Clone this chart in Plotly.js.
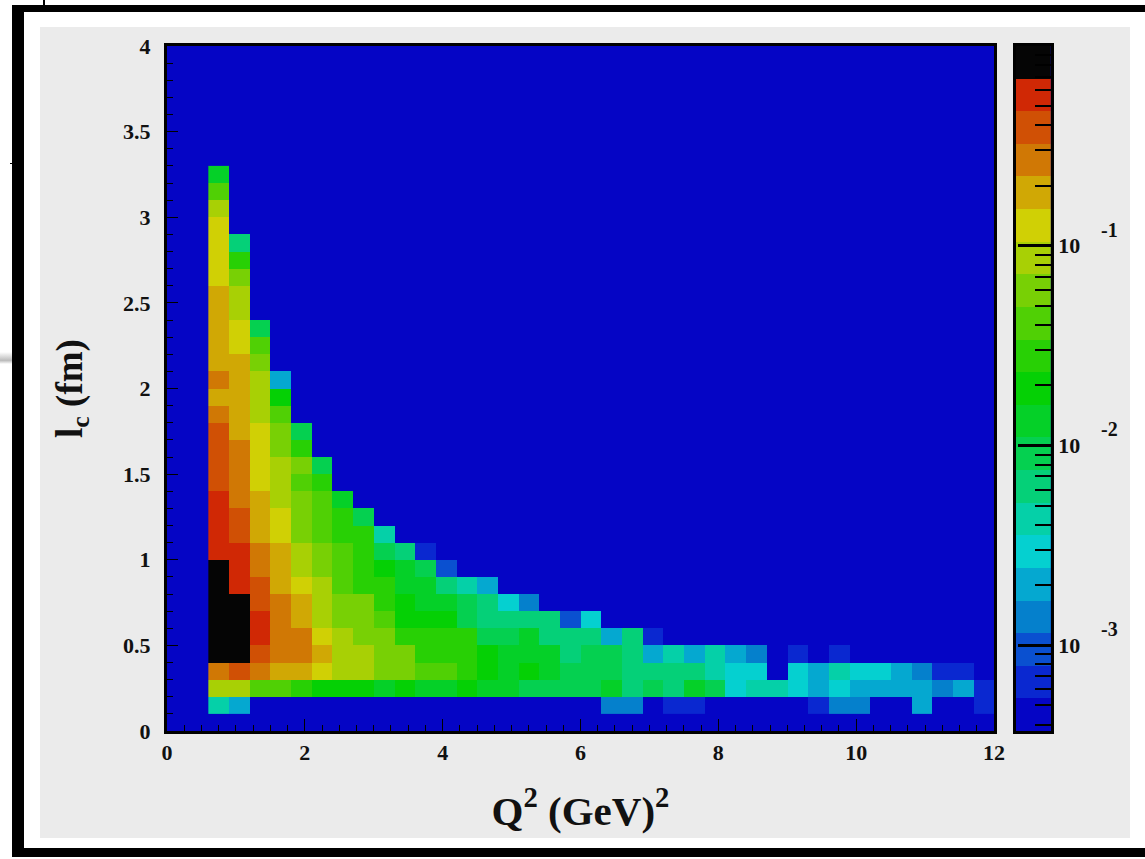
<!DOCTYPE html>
<html>
<head>
<meta charset="utf-8">
<script src="https://cdn.plot.ly/plotly-3.0.1.min.js"></script>
<style>
  html, body { margin: 0; padding: 0; background: #fff; width: 1145px; height: 859px; overflow: hidden; }
  #frame { position: absolute; left: 12px; top: 5px; width: 1133px; height: 852px; box-sizing: border-box;
           border-left: 12px solid #000; border-top: 7px solid #000; border-bottom: 9px solid #000; background: #fff; }
  #tab { position: absolute; left: 43px; top: 0; width: 2px; height: 5px; background: #000; }
  #nick { position: absolute; left: 10px; top: 163px; width: 2px; height: 1px; background: #000; }
  #smudge { position: absolute; left: 0; top: 352px; width: 12px; height: 12px;
            background: linear-gradient(#fff, #bbb 70%, #fff); }
  #chart { position: absolute; left: 40px; top: 27px; width: 1090px; height: 811px; }
</style>
</head>
<body>
<div id="frame"></div><div id="tab"></div><div id="nick"></div><div id="smudge"></div>
<div id="chart"></div>
<script>
// Colour bands of the scale, bottom to top
var bandColors = ['#0505c5','#0a28d0','#0a50d0','#0580cc','#05a8d0','#05d0d0','#05d0a8','#05d078','#05d050','#05d028',
                  '#05d005','#28d005','#50d005','#78d005','#a8d005','#d0d005','#d0a805','#d07805','#d05005','#d02805','#050505'];

// Band index per cell, one list per l_c row (0.1 fm rows), left to right from Q2 = 0.6 (0.3 GeV2 columns)
var r01 = [6,4,0,0,0,0,0,0,0,0,0,0,0,0,0,0,0,0,0,3,3,0,1,1,0,0,0,0,0,1,3,3,0,0,4,0,0,1];
var r02 = [14,14,12,12,11,10,10,10,9,10,9,9,10,9,9,8,8,8,8,9,7,8,7,9,8,5,6,6,5,4,5,4,4,4,4,3,4,1];
var r03 = [17,18,17,16,16,15,14,14,13,13,12,12,11,10,9,10,9,8,8,8,7,7,7,7,6,5,5,0,5,4,6,5,5,4,3,1,1,0];
var r04 = [20,20,18,17,17,16,14,14,13,13,11,11,11,10,9,9,9,7,8,8,7,4,6,4,6,4,3,0,1,0,1];
var r05 = [20,20,19,17,17,15,14,13,13,11,11,11,11,8,8,9,7,7,7,4,7,1];
var r06 = [20,20,19,17,16,14,13,13,12,10,10,10,8,7,7,7,7,2,5];
var r07 = [20,20,18,17,16,14,13,13,11,10,9,9,8,7,5,3];
var r08 = [20,19,18,16,15,14,12,11,11,9,9,7,6,4];
var r09 = [20,19,17,16,14,13,12,11,10,9,8,2];
var r10 = [19,19,17,16,14,13,12,11,8,7,1];
var r11 = [19,18,16,15,13,12,11,11,6];
var r12 = [19,18,16,15,13,12,11,8];
var r13 = [19,17,16,14,13,12,9];
var r14 = [18,17,15,14,12,11];
var r15 = [18,17,15,14,13,8];
var r16 = [18,17,15,13,11];
var r17 = [18,16,15,13,8];
var r18 = [17,16,14,12];
var r19 = [16,16,14,10];
var r20 = [17,16,14,4];
var r21 = [16,16,13];
var r22 = [16,15,12];
var r23 = [16,15,8];
var r24 = [16,14];
var r25 = [16,14];
var r26 = [15,13];
var r27 = [15,11];
var r28 = [15,7];
var r29 = [15];
var r30 = [14];
var r31 = [12];
var r32 = [9];
var rows = [r01,r02,r03,r04,r05,r06,r07,r08,r09,r10,r11,r12,r13,r14,r15,r16,
            r17,r18,r19,r20,r21,r22,r23,r24,r25,r26,r27,r28,r29,r30,r31,r32];

var xTickVals = [0,2,4,6,8,10,12];
var yTickVals = [0,0.5,1,1.5,2,2.5,3,3.5,4];
var yTickText = ['0','0.5','1','1.5','2','2.5','3','3.5','4'];
var barDecades = [1e-3,1e-2,1e-1];
var barDecadeText = ['10','10','10'];
var barExponents = ['-3','-2','-1'];
var barMinor = [4e-4,5e-4,6e-4,7e-4,8e-4,9e-4,
                2e-3,3e-3,4e-3,5e-3,6e-3,7e-3,8e-3,9e-3,
                2e-2,3e-2,4e-2,5e-2,6e-2,7e-2,8e-2,9e-2,
                2e-1,3e-1,4e-1,5e-1,6e-1,7e-1,8e-1,9e-1];
var barLogRange = [-3.43, 0];

// ---- build traces from the lists above
var nCols = 38, nBands = bandColors.length;
var xEdges = [], yEdges = [], i;
for (i = 0; i <= nCols; i++) xEdges.push(+(0.6 + 0.3 * i).toFixed(2));
for (i = 0; i <= rows.length; i++) yEdges.push(+(0.1 + 0.1 * i).toFixed(2));
var z = rows.map(function (r) {
  var out = r.slice();
  while (out.length < nCols) out.push(0);
  return out;
});
var scale = [];
bandColors.forEach(function (c, k) {
  scale.push([k / nBands, c]);
  scale.push([(k + 1) / nBands, c]);
});
var barEdges = [], barZ = [];
for (i = 0; i <= nBands; i++) barEdges.push(Math.pow(10, barLogRange[0] + (barLogRange[1] - barLogRange[0]) * i / nBands));
for (i = 0; i < nBands; i++) barZ.push([i]);

var serif = 'Liberation Serif, Times New Roman, serif';
var tickFont = { family: serif, size: 22, color: '#111', weight: 700 };

var data = [
  { type: 'heatmap', x: xEdges, y: yEdges, z: z, colorscale: scale, zmin: -0.5, zmax: nBands - 0.5,
    zsmooth: false, showscale: false, xaxis: 'x', yaxis: 'y',
    hovertemplate: 'Q2 %{x}<br>lc %{y}<br>band %{z}<extra></extra>' },
  { type: 'heatmap', x: [0, 1], y: barEdges, z: barZ, colorscale: scale, zmin: -0.5, zmax: nBands - 0.5,
    zsmooth: false, showscale: false, xaxis: 'x2', yaxis: 'y2', hoverinfo: 'skip' }
];

var annotations = barDecades.map(function (d, k) {
  return { xref: 'paper', yref: 'y2', x: 1.052, y: Math.log10(d), yshift: 16, text: barExponents[k],
           showarrow: false, xanchor: 'left', font: { family: serif, size: 20, color: '#111', weight: 700 } };
});

var layout = {
  width: 1090, height: 811,
  margin: { l: 127, r: 77, t: 19, b: 107, pad: 0 },
  paper_bgcolor: '#ebebeb', plot_bgcolor: '#0505c5',
  showlegend: false,
  font: { family: serif },
  xaxis: {
    domain: [0, 0.9334], range: [0, 12], anchor: 'y', tickmode: 'array', tickvals: xTickVals,
    ticks: 'inside', ticklen: 12, tickwidth: 1, tickcolor: '#000',
    minor: { dtick: 0.25, ticks: 'inside', ticklen: 6, tickwidth: 1, tickcolor: '#000', showgrid: false },
    showgrid: false, zeroline: false, showline: true, linecolor: '#000', linewidth: 3, mirror: true,
    tickfont: tickFont,
    title: { text: 'Q<sup>2</sup> (GeV)<sup>2</sup>', font: { family: serif, size: 41, color: '#111', weight: 700 }, standoff: 32 }
  },
  yaxis: {
    domain: [0, 1], range: [0, 4], anchor: 'x', tickmode: 'array', tickvals: yTickVals, ticktext: yTickText,
    ticks: 'inside', ticklen: 11, tickwidth: 1, tickcolor: '#000',
    minor: { dtick: 0.1, ticks: 'inside', ticklen: 6, tickwidth: 1, tickcolor: '#000', showgrid: false },
    showgrid: false, zeroline: false, showline: true, linecolor: '#000', linewidth: 3, mirror: true,
    tickfont: tickFont, ticklabelstandoff: 9,
    title: { text: 'l<sub>c</sub> (fm)', font: { family: serif, size: 37, color: '#111', weight: 700 }, standoff: 30 }
  },
  xaxis2: {
    domain: [0.958, 0.9977], range: [0, 1], anchor: 'y2', showticklabels: false, ticks: '',
    showgrid: false, zeroline: false, showline: true, linecolor: '#000', linewidth: 3, mirror: true
  },
  yaxis2: {
    domain: [0, 1], type: 'log', range: barLogRange, anchor: 'x2', side: 'right',
    tickmode: 'array', tickvals: barDecades, ticktext: barDecadeText,
    ticks: 'inside', ticklen: 33, tickwidth: 3, tickcolor: '#000',
    minor: { tickmode: 'array', tickvals: barMinor, ticks: 'inside', ticklen: 16, tickwidth: 2, tickcolor: '#000', showgrid: false },
    showgrid: false, zeroline: false, showline: true, linecolor: '#000', linewidth: 3, mirror: true,
    tickfont: tickFont
  },
  annotations: annotations
};

Plotly.newPlot('chart', data, layout, { displayModeBar: false, staticPlot: true });
</script>
</body>
</html>
